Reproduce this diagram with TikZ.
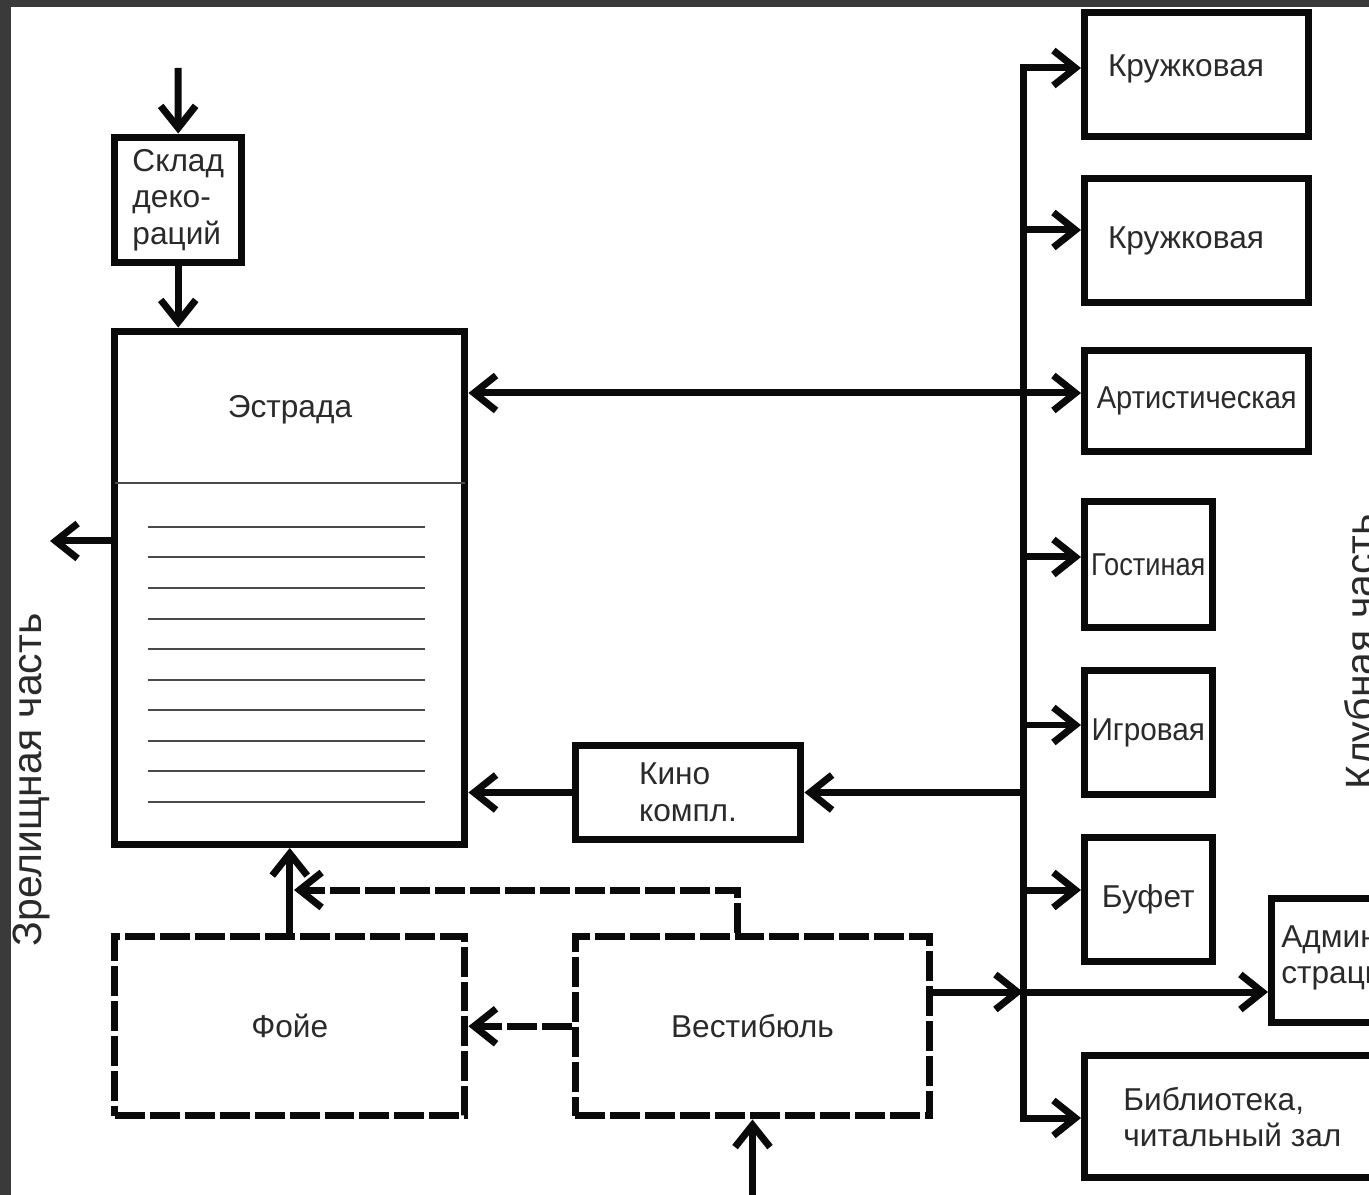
\documentclass[tikz,border=0pt]{standalone}
\usepackage{fontspec}
\setmainfont{Liberation Sans}
\usepackage{graphicx}
\usetikzlibrary{arrows.meta}
\definecolor{framec}{HTML}{3A3A3A}
\definecolor{ink}{HTML}{0A0A0A}
\definecolor{txt}{HTML}{2A2A2A}
\definecolor{thinc}{HTML}{4A4A4A}
\tikzset{
  >={Straight Barb[length=0.44cm,width=0.7cm]},
  box/.style={draw=ink, line width=0.14cm, inner sep=0pt},
  dbox/.style={box, dash pattern=on 0.6cm off 0.1cm},
  conn/.style={draw=ink, line width=0.14cm, line join=miter, ->},
  conntwo/.style={draw=ink, line width=0.14cm, line join=miter, <->},
  dconn/.style={conn, dash pattern=on 0.6cm off 0.1cm},
  lbl/.style={text=txt, font=\fontsize{18}{20.8}\selectfont, align=left},
  vlbl/.style={text=txt, font=\fontsize{23.3}{27}\selectfont, rotate=90, anchor=base, inner sep=0pt},
  thinl/.style={draw=thinc, line width=0.04cm},
}
\begin{document}
\begin{tikzpicture}[x=0.02cm,y=-0.02cm]
\useasboundingbox (0,0) rectangle (1369,1195);
\clip (0,0) rectangle (1369,1195);
\fill[framec] (0,0) rectangle (1369,1195);
\fill[white] (11,7) rectangle (1369,1195);

% left part
\node[box, lbl, minimum width=2.55cm, minimum height=2.52cm] (sklad) at (178.25,200) {Склад\\деко-\\раций};
\node[box, minimum width=7.01cm, minimum height=10.27cm] (estr) at (289.75,587.75) {};
\node[lbl] (estrt) at (290,410) {Эстрада};
\draw[line width=0.05cm, draw=thinc] (114.5,483) -- (465,483);
\foreach \yy in {527,557,588,619,649,680,710,741,771,802}
  \draw[thinl] (148,\yy) -- (425,\yy);
\node[box, lbl, minimum width=4.52cm, minimum height=1.9cm] (kino) at (688,792.5) {Кино\\компл.};
\node[dbox, lbl, minimum width=7.01cm, minimum height=3.59cm] (foye) at (289.75,1026.25) {Фойе};
\node[dbox, lbl, minimum width=7.1cm, minimum height=3.59cm] (vest) at (752.5,1026.25) {Вестибюль};

% right part
\node[box, minimum width=4.49cm, minimum height=2.5cm] (kr1) at (1196.75,74.5) {};
\node[lbl] (kr1t) at (1186,69) {Кружковая};
\node[box, minimum width=4.49cm, minimum height=2.5cm] (kr2) at (1196.75,240.5) {};
\node[lbl] (kr2t) at (1186,241) {Кружковая};
\node[box, lbl, minimum width=4.49cm, minimum height=2.04cm] (art) at (1196.75,401) {\scalebox{0.92}[1]{Артистическая}};
\node[box, lbl, minimum width=2.55cm, minimum height=2.53cm] (gost) at (1148.25,564.75) {\scalebox{0.86}[1]{Гостиная}};
\node[box, lbl, minimum width=2.55cm, minimum height=2.5cm] (igr) at (1148.25,732.5) {\scalebox{0.94}[1]{Игровая}};
\node[box, lbl, minimum width=2.55cm, minimum height=2.5cm] (buf) at (1148.25,899.5) {Буфет};
\node[box, minimum width=3.37cm, minimum height=2.5cm] (adm) at (1355.75,960.5) {};
\node[lbl, anchor=west, inner sep=0pt] (admt) at (1281,958) {Админи-\\страция};
\node[box, minimum width=7.11cm, minimum height=2.46cm] (lib) at (1262.25,1116.5) {};
\node[lbl, anchor=west, inner sep=0pt] (libt) at (1123,1117) {Библиотека,\\читальный зал};

% side labels
\node[vlbl] (zrel) at (41,780) {Зрелищная часть};
\node[vlbl] (klub) at (1374,652) {Клубная часть};

% helper coordinates
\coordinate (top1) at (178,68);
\coordinate (outL) at (50,541);
\coordinate (bus) at (1023,0);
\coordinate (y1) at (0,68);
\coordinate (y2) at (0,230);
\coordinate (ya) at (0,393);
\coordinate (y4) at (0,557);
\coordinate (y5) at (0,725);
\coordinate (y6) at (0,890);
\coordinate (yl) at (0,1118);
\coordinate (j) at (1023,992);
\coordinate (vx) at (737,0);
\coordinate (dk) at (737,890);
\coordinate (dj) at (294,890);
\coordinate (bot) at (752.5,1210);

% connectors
\draw[conn] (top1) -- (sklad.north);
\draw[conn] (sklad.south) -- (sklad.south |- estr.north);
\draw[conn] (estr.west |- outL) -- (outL);
\draw[conntwo] (kr1.west |- y1) -- (bus |- y1) -- (bus |- yl) -- (lib.west |- yl);
\draw[conn] (bus |- y2) -- (kr2.west |- y2);
\draw[conntwo] (estr.east |- ya) -- (art.west |- ya);
\draw[conn] (bus |- y4) -- (gost.west |- y4);
\draw[conn] (bus |- y5) -- (igr.west |- y5);
\draw[conn] (bus |- y6) -- (buf.west |- y6);
\draw[conn] (bus |- kino.east) -- (kino.east);
\draw[conn] (kino.west) -- (kino.west -| estr.east);
\draw[conn] (vest.east |- j) -- (j);
\draw[conn] (j) -- (j -| adm.west);
\draw[conn] (foye.north) -- (estr.south);
\draw[dconn] (vest.north -| vx) -- (dk) -- (dj);
\draw[dconn] (vest.west) -- (foye.east);
\draw[conn] (bot) -- (vest.south);
\end{tikzpicture}
\end{document}
